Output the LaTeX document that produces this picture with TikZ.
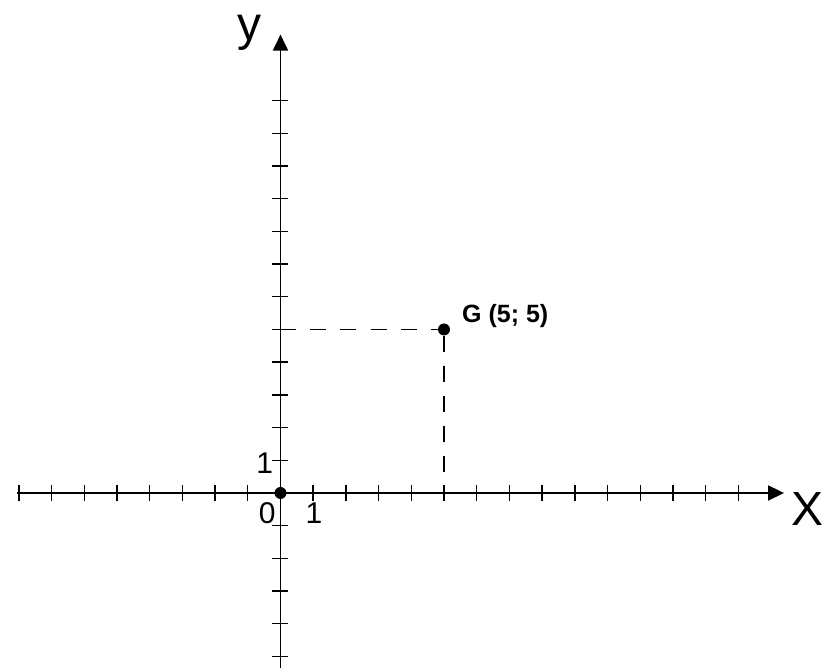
\documentclass[tikz,border=0pt]{standalone}
\usepackage{fontspec}
\setmainfont{Liberation Sans}
\usetikzlibrary{arrows.meta}
\begin{document}
\begin{tikzpicture}[x=32.7pt,y=32.7pt,
  axis/.style={line width=1.8pt,-{Triangle[length=16pt,width=15pt]}},
  tick/.style={line width=1.4pt},
  guide/.style={line width=1.4pt,dash pattern=on 16pt off 14pt},
  dot/.style={circle,fill=black,inner sep=0pt,minimum size=12pt},
  lbl/.style={font=\fontsize{30}{30}\selectfont,inner sep=0pt}]
\useasboundingbox[fill=white] (-280.5pt,-175pt) rectangle (544.5pt,493pt);
\coordinate (xs) at (-8.05,0);
\coordinate (xe) at (15.4,0);
\coordinate (ys) at (0,-5.4);
\coordinate (ye) at (0,14.02);
\coordinate (g0x) at (5,0);
\coordinate (g0y) at (0,5);
\draw[axis] (xs) -- (xe);
\draw[axis] (ys) -- (ye);
\foreach \i in {-8,...,-1,1,2,...,14} \draw[tick] (\i,-8pt) -- (\i,8pt);
\foreach \i in {-5,...,-1,1,2,...,12} \draw[tick] (-8pt,\i) -- (8pt,\i);
\node[dot] (o) at (0,0) {};
\node[dot] (g) at (5,5) {};
\draw[guide] (g0y) -- (g);
\draw[guide] (g) -- (g0x);
\node[font=\fontsize{48}{48}\selectfont,inner sep=0pt,anchor=base] (ylab) at (-0.96,13.85) {y};
\node[font=\fontsize{48}{48}\selectfont,inner sep=0pt,anchor=base] (xlab) at (16.13,-0.98) {X};
\node[lbl,anchor=base] (zero) at (-0.41,-0.92) {0};
\node[lbl,anchor=base] (onex) at (1.02,-0.92) {1};
\node[lbl,anchor=base] (oney) at (-0.48,0.61) {1};
\node[font=\bfseries\fontsize{25}{25}\selectfont,inner sep=0pt,anchor=base west] (glab) at (5.55,5.2) {G (5; 5)};
\end{tikzpicture}
\end{document}
